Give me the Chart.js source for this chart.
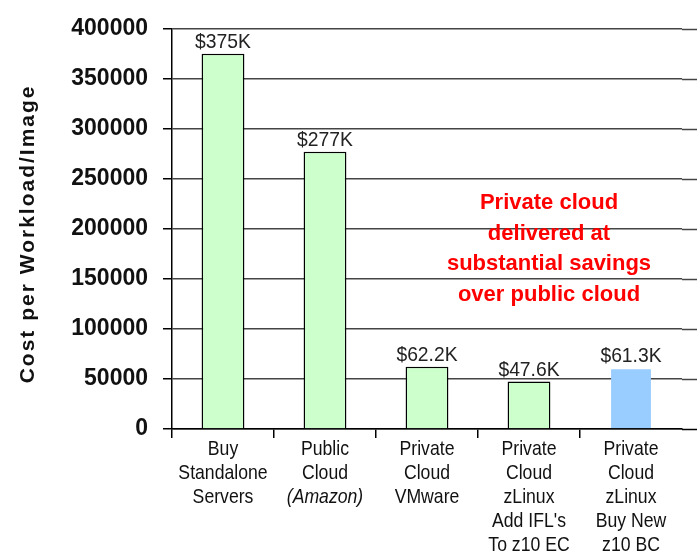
<!DOCTYPE html>
<html>
<head>
<meta charset="utf-8">
<script src="https://cdn.jsdelivr.net/npm/chart.js@4/dist/chart.umd.min.js"></script>
<style>
  html, body { margin: 0; padding: 0; background: #fff; overflow: hidden; }
  #wrap { width: 697px; height: 552px; }
</style>
</head>
<body>
<div id="wrap"><canvas id="c" width="697" height="552"></canvas></div>
<script>
// data
const categories = [
  ['Buy', 'Standalone', 'Servers'],
  ['Public', 'Cloud', '(Amazon)'],
  ['Private', 'Cloud', 'VMware'],
  ['Private', 'Cloud', 'zLinux', "Add IFL's", 'To z10 EC'],
  ['Private', 'Cloud', 'zLinux', 'Buy New', 'z10 BC']
];
const costs = [375000, 277000, 62200, 47600, 61300];
const costLabels = ['$375K', '$277K', '$62.2K', '$47.6K', '$61.3K'];
const barColors = ['#CCFFCC', '#CCFFCC', '#CCFFCC', '#CCFFCC', '#99CCFF'];
const barBorders = ['#000', '#000', '#000', '#000', 'rgba(0,0,0,0)'];
const yTitle = 'Cost per Workload/Image';
const note = ['Private cloud', 'delivered at', 'substantial savings', 'over public cloud'];

// condensed text, the source font is a narrow one
function squeezed(ctx, text, x, y, sx) {
  ctx.save();
  ctx.translate(x, y);
  ctx.scale(sx, 1);
  ctx.fillText(text, 0, 0);
  ctx.restore();
}

// bar value labels + category labels + side text
const extras = {
  id: 'extras',
  beforeDatasetsDraw(chart) {
    // gridlines run on past the last category
    const { ctx, chartArea } = chart;
    const y = chart.scales.y;
    ctx.save();
    ctx.lineWidth = 1.5;
    y.ticks.forEach(t => {
      const py = Math.round(y.getPixelForValue(t.value)) + 0.5;
      ctx.strokeStyle = t.value === 0 ? '#000' : '#444';
      ctx.beginPath();
      ctx.moveTo(chartArea.right, py);
      ctx.lineTo(chart.width, py);
      ctx.stroke();
    });
    ctx.restore();
  },
  afterDatasetsDraw(chart) {
    const { ctx, chartArea } = chart;
    const x = chart.scales.x;
    const meta = chart.getDatasetMeta(0);
    ctx.save();
    ctx.fillStyle = '#222';
    ctx.font = '21px Arial, sans-serif';
    ctx.textAlign = 'center';
    ctx.textBaseline = 'bottom';
    meta.data.forEach((bar, i) => squeezed(ctx, costLabels[i], bar.x, bar.y - 1, 0.92));

    ctx.fillStyle = '#111';
    ctx.textBaseline = 'middle';
    categories.forEach((lines, i) => {
      const cx = x.getPixelForValue(i);
      lines.forEach((ln, j) => {
        ctx.font = (ln.startsWith('(') ? 'italic ' : '') + '21px Arial, sans-serif';
        squeezed(ctx, ln, cx, chartArea.bottom + 20 + j * 24, 0.84);
      });
    });

    ctx.fillStyle = '#FF0000';
    ctx.font = 'bold 22px Arial, sans-serif';
    note.forEach((ln, j) => ctx.fillText(ln, 549, 203 + j * 30.5));

    ctx.fillStyle = '#111';
    ctx.font = 'bold 21px Arial, sans-serif';
    ctx.letterSpacing = '2px';
    ctx.translate(28, (chartArea.top + chartArea.bottom) / 2 + 5);
    ctx.rotate(-Math.PI / 2);
    ctx.fillText(yTitle, 0, 0);
    ctx.restore();
  }
};

new Chart(document.getElementById('c'), {
  type: 'bar',
  data: {
    labels: categories,
    datasets: [{
      data: costs,
      backgroundColor: barColors,
      borderColor: barBorders,
      borderWidth: 1.5,
      categoryPercentage: 1,
      barPercentage: 0.42
    }]
  },
  options: {
    responsive: false,
    animation: false,
    layout: { padding: { top: 24, right: 15, left: 0, bottom: 0 } },
    plugins: { legend: { display: false }, tooltip: { enabled: false } },
    scales: {
      x: {
        afterFit: s => { s.height = 123; },
        grid: {
          drawOnChartArea: false, drawTicks: true, tickLength: 9, lineWidth: 1.5,
          // no closing tick after the last category
          color: c => c.type === 'tick' ? '#000' : 'rgba(0,0,0,0)'
        },
        border: { color: '#000', width: 1.5 },
        ticks: { display: false }
      },
      y: {
        min: 0, max: 400000,
        afterFit: s => { s.width = 172; },
        grid: { color: '#444', lineWidth: 1.5, tickLength: 9, tickColor: '#000' },
        border: { color: '#000', width: 1.5 },
        ticks: {
          stepSize: 50000,
          padding: 15,
          color: '#111',
          callback: v => String(v),
          font: { family: 'Arial, sans-serif', size: 23, weight: 'bold' }
        }
      }
    }
  },
  plugins: [extras]
});
</script>
</body>
</html>
